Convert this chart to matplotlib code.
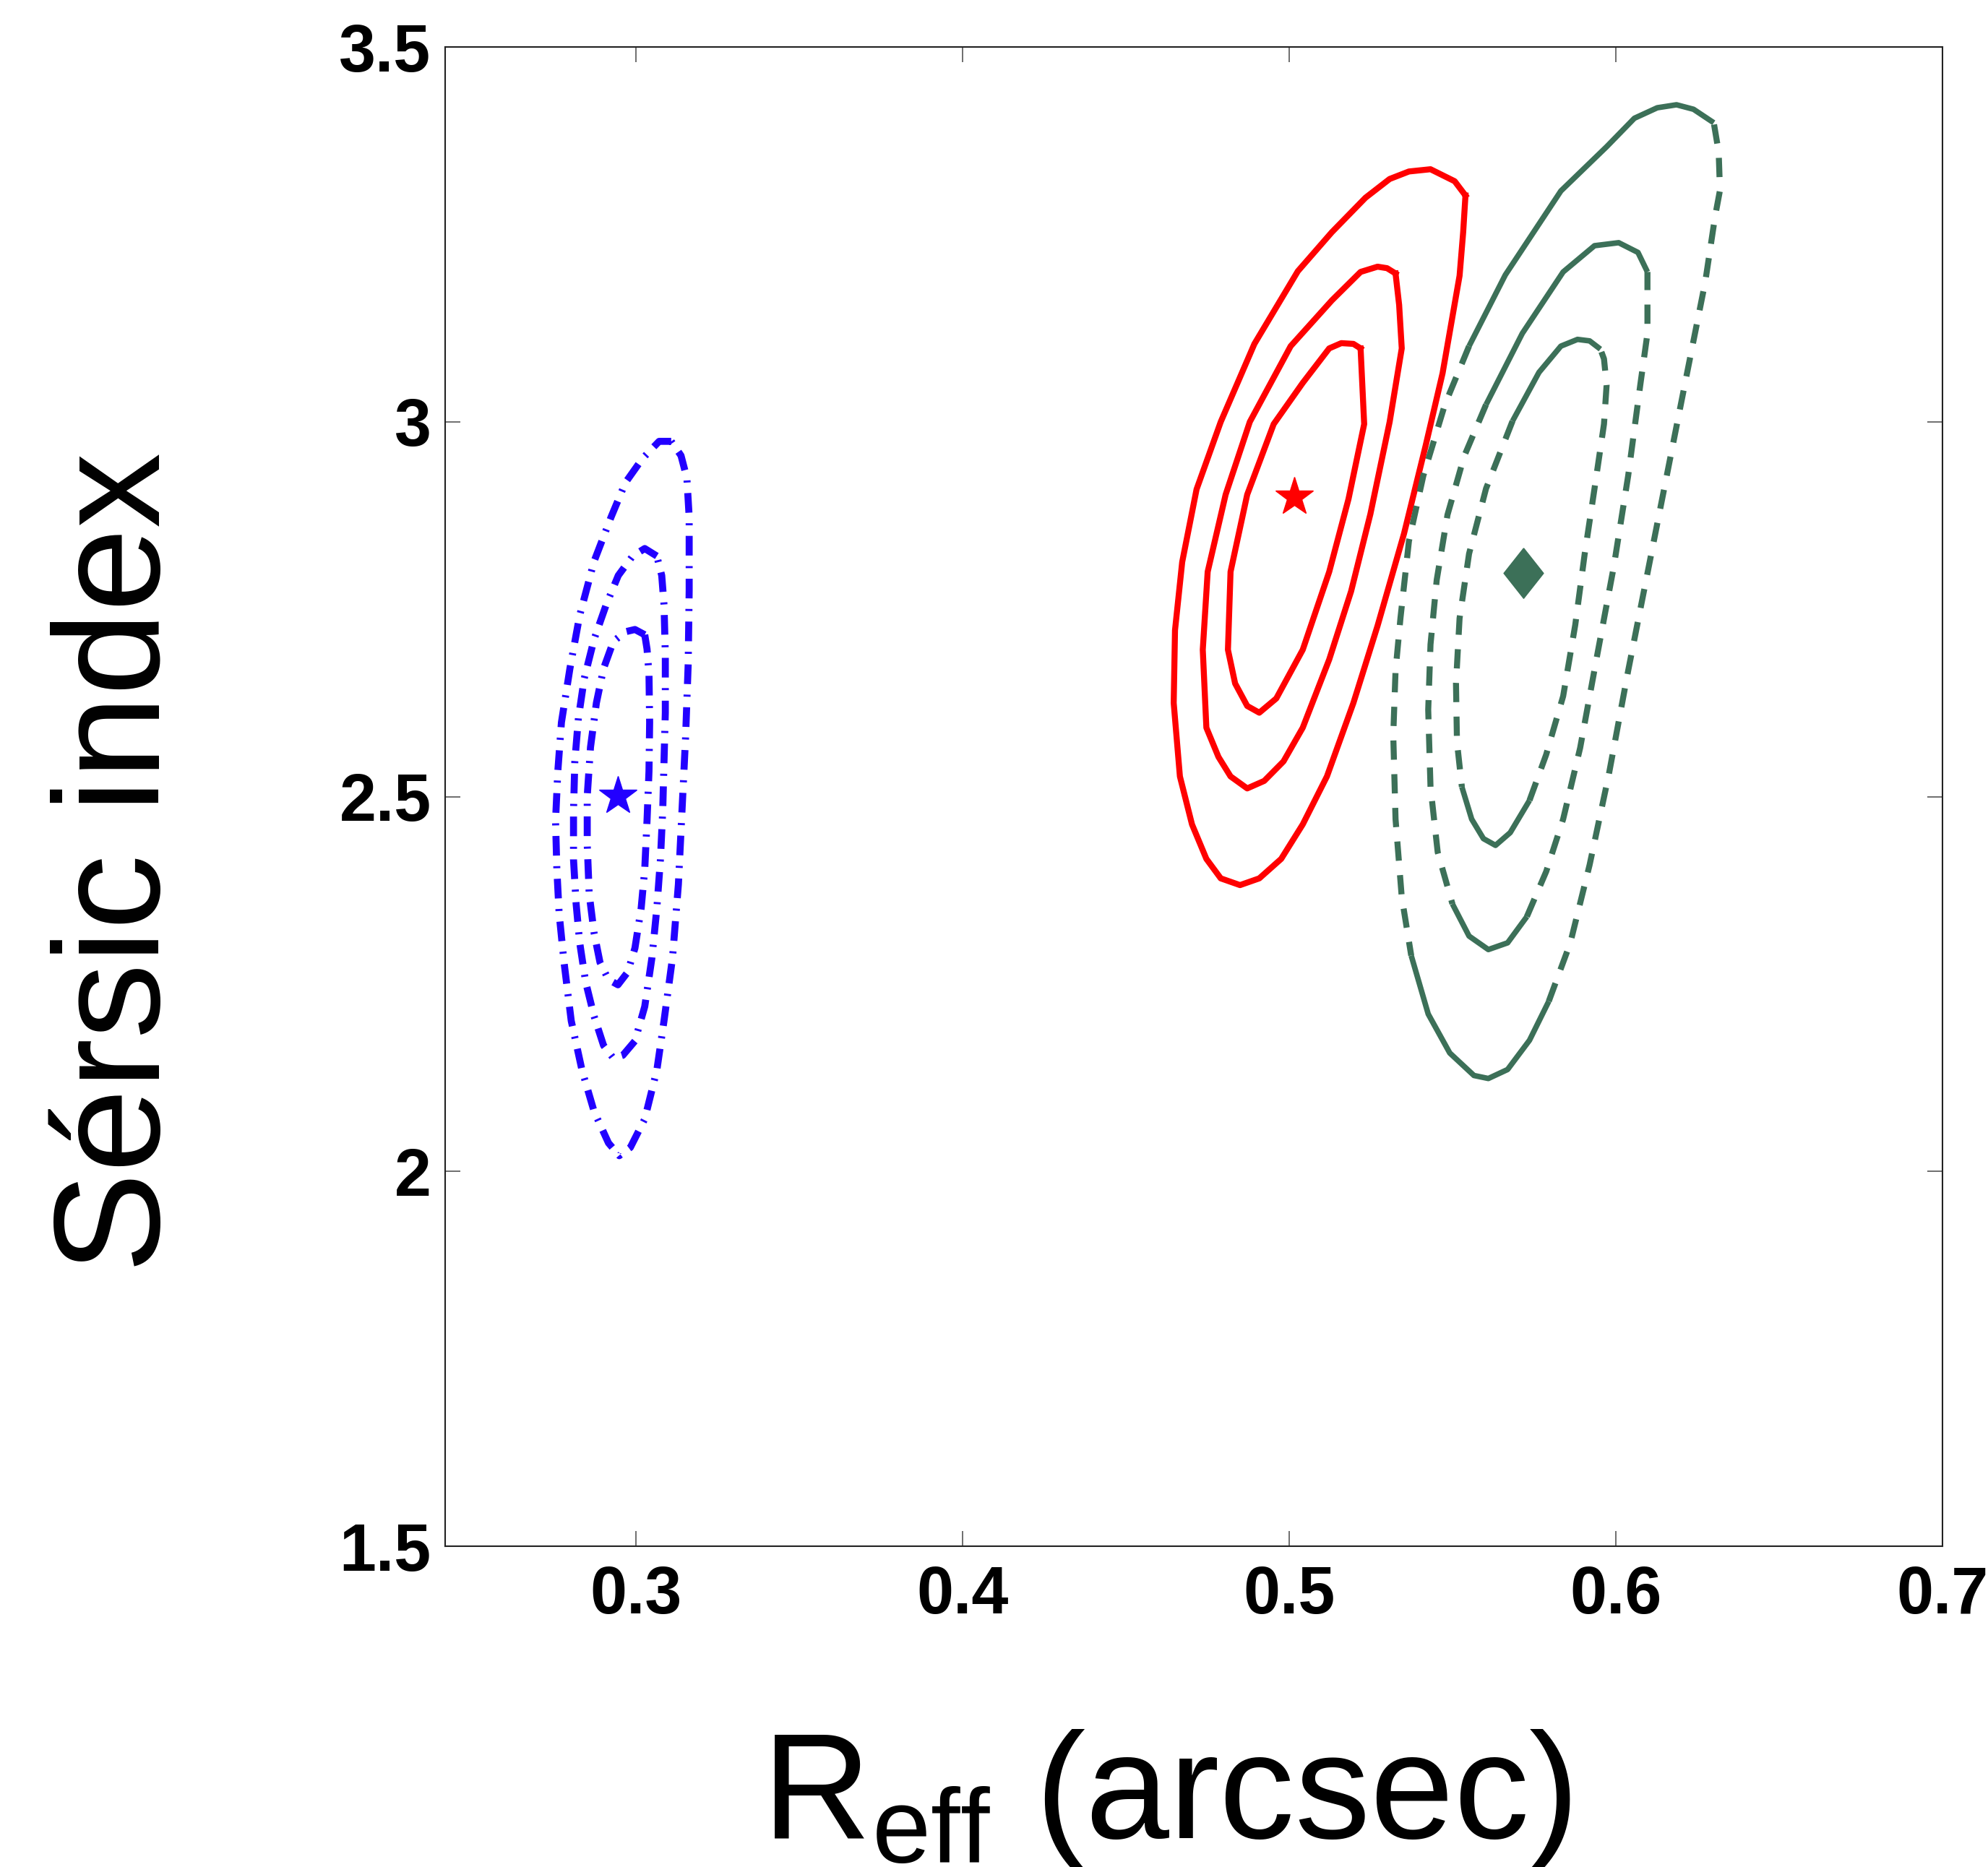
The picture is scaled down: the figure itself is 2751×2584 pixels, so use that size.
import numpy as np
import matplotlib.pyplot as plt

plt.rcParams['font.family'] = ['Liberation Sans', 'DejaVu Sans']
plt.rcParams['mathtext.fontset'] = 'custom'
plt.rcParams['mathtext.rm'] = 'Liberation Sans'

# ---- blue sample: three confidence contours (outer -> inner) + best fit
blue_c1_x = [0.3109, 0.3072, 0.3021, 0.2969, 0.2925, 0.2873, 0.2829, 0.2799, 0.2773, 0.2762,
             0.2755, 0.2759, 0.2766, 0.2781, 0.2803, 0.2836, 0.2873, 0.2917, 0.2950, 0.2984,
             0.3028, 0.3065, 0.3087, 0.3113, 0.3131, 0.3142, 0.3153, 0.3161, 0.3164, 0.3164,
             0.3157, 0.3139]
blue_c1_y = [2.974, 2.974, 2.951, 2.919, 2.873, 2.814, 2.742, 2.671, 2.599, 2.534,
             2.468, 2.403, 2.344, 2.279, 2.201, 2.135, 2.080, 2.038, 2.021, 2.032,
             2.070, 2.135, 2.201, 2.285, 2.383, 2.481, 2.579, 2.677, 2.775, 2.873,
             2.925, 2.955]
blue_c2_x = [0.3065, 0.3028, 0.2991, 0.2947, 0.2910, 0.2873, 0.2843, 0.2825, 0.2814, 0.2810,
             0.2810, 0.2818, 0.2829, 0.2847, 0.2873, 0.2902, 0.2932, 0.2961, 0.2998, 0.3028,
             0.3050, 0.3065, 0.3076, 0.3083, 0.3087, 0.3091, 0.3091, 0.3087, 0.3080]
blue_c2_y = [2.821, 2.831, 2.821, 2.795, 2.756, 2.710, 2.658, 2.605, 2.547, 2.481,
             2.416, 2.357, 2.305, 2.253, 2.207, 2.168, 2.151, 2.155, 2.174, 2.220,
             2.285, 2.351, 2.416, 2.481, 2.547, 2.612, 2.690, 2.756, 2.795]
blue_c3_x = [0.3028, 0.2998, 0.2969, 0.2932, 0.2902, 0.2880, 0.2862, 0.2852, 0.2852, 0.2858,
             0.2873, 0.2891, 0.2917, 0.2946, 0.2976, 0.2998, 0.3017, 0.3028, 0.3035, 0.3041,
             0.3043, 0.3041, 0.3035]
blue_c3_y = [2.716, 2.723, 2.720, 2.707, 2.671, 2.625, 2.566, 2.501, 2.436, 2.370,
             2.318, 2.279, 2.256, 2.249, 2.266, 2.298, 2.351, 2.403, 2.468, 2.534,
             2.599, 2.664, 2.697]
blue_best = (0.2945, 2.501)

# ---- red sample
red_c1_x = [0.5540, 0.5507, 0.5433, 0.5367, 0.5308, 0.5234, 0.5131, 0.5027, 0.4894, 0.4791,
            0.4717, 0.4673, 0.4651, 0.4647, 0.4666, 0.4703, 0.4747, 0.4791, 0.4850, 0.4909,
            0.4976, 0.5042, 0.5116, 0.5197, 0.5271, 0.5352, 0.5418, 0.5470, 0.5522, 0.5533]
red_c1_y = [3.302, 3.321, 3.337, 3.334, 3.324, 3.299, 3.253, 3.201, 3.104, 3.000,
            2.910, 2.813, 2.722, 2.625, 2.527, 2.463, 2.417, 2.391, 2.382, 2.391,
            2.417, 2.463, 2.527, 2.625, 2.728, 2.851, 2.968, 3.065, 3.195, 3.253]
red_c2_x = [0.5326, 0.5300, 0.5271, 0.5219, 0.5131, 0.5005, 0.4880, 0.4806, 0.4751, 0.4736,
            0.4747, 0.4784, 0.4821, 0.4872, 0.4924, 0.4983, 0.5042, 0.5123, 0.5190, 0.5249,
            0.5308, 0.5345, 0.5337]
red_c2_y = [3.198, 3.205, 3.207, 3.200, 3.162, 3.101, 3.000, 2.903, 2.800, 2.696,
            2.592, 2.553, 2.527, 2.511, 2.521, 2.547, 2.592, 2.683, 2.774, 2.877,
            3.000, 3.098, 3.156]
red_c3_x = [0.5219, 0.5197, 0.5160, 0.5123, 0.5042, 0.4953, 0.4872, 0.4821, 0.4813, 0.4835,
            0.4872, 0.4909, 0.4961, 0.5042, 0.5123, 0.5182, 0.5230]
red_c3_y = [3.098, 3.104, 3.105, 3.098, 3.052, 2.997, 2.903, 2.800, 2.696, 2.651,
            2.621, 2.612, 2.631, 2.696, 2.800, 2.897, 2.997]
red_best = (0.5015, 2.900)

# ---- green sample
green_c1_x = [0.6300, 0.6238, 0.6186, 0.6127, 0.6057, 0.5972, 0.5832, 0.5662, 0.5551, 0.5477,
              0.5411, 0.5367, 0.5341, 0.5326, 0.5319, 0.5326, 0.5345, 0.5374, 0.5426, 0.5492,
              0.5566, 0.5610, 0.5669, 0.5736, 0.5795, 0.5861, 0.5920, 0.5979, 0.6038, 0.6097,
              0.6156, 0.6215, 0.6274, 0.6304, 0.6319, 0.6315]
green_c1_y = [3.399, 3.417, 3.423, 3.419, 3.405, 3.367, 3.308, 3.196, 3.101, 3.023,
              2.928, 2.841, 2.738, 2.668, 2.582, 2.470, 2.366, 2.288, 2.210, 2.158,
              2.128, 2.124, 2.136, 2.175, 2.227, 2.305, 2.409, 2.530, 2.668, 2.798,
              2.928, 3.058, 3.187, 3.274, 3.309, 3.360]
green_c2_x = [0.6097, 0.6068, 0.6009, 0.5935, 0.5839, 0.5714, 0.5603, 0.5536, 0.5485, 0.5452,
              0.5433, 0.5426, 0.5433, 0.5455, 0.5500, 0.5551, 0.5610, 0.5669, 0.5728, 0.5787,
              0.5839, 0.5891, 0.5942, 0.5994, 0.6038, 0.6075, 0.6097, 0.6097]
green_c2_y = [3.200, 3.226, 3.239, 3.235, 3.200, 3.118, 3.023, 2.954, 2.876, 2.789,
              2.703, 2.616, 2.513, 2.426, 2.357, 2.314, 2.296, 2.305, 2.340, 2.400,
              2.470, 2.565, 2.686, 2.807, 2.928, 3.049, 3.118, 3.187]
green_c3_x = [0.5953, 0.5920, 0.5883, 0.5832, 0.5765, 0.5684, 0.5603, 0.5551, 0.5522, 0.5511,
              0.5514, 0.5529, 0.5559, 0.5595, 0.5632, 0.5677, 0.5736, 0.5787, 0.5839, 0.5876,
              0.5905, 0.5935, 0.5964, 0.5972, 0.5964]
green_c3_y = [3.097, 3.108, 3.110, 3.101, 3.066, 3.001, 2.911, 2.824, 2.738, 2.651,
              2.573, 2.513, 2.470, 2.444, 2.435, 2.452, 2.495, 2.556, 2.634, 2.729,
              2.824, 2.911, 2.997, 3.049, 3.084]
green_best = (0.5717, 2.798)

x_ticks = [0.3, 0.4, 0.5, 0.6, 0.7]
x_ticklabels = ['0.3', '0.4', '0.5', '0.6', '0.7']
y_ticks = [1.5, 2, 2.5, 3, 3.5]
y_ticklabels = ['1.5', '2', '2.5', '3', '3.5']

BLUE = '#2200ff'
RED = '#ff0000'
GREEN = '#3c7058'


def closed(xs, ys):
    return np.append(xs, xs[0]), np.append(ys, ys[0])


fig = plt.figure(figsize=(27.51, 25.84), dpi=100)
ax = fig.add_axes([0.2239, 0.1718, 0.7532, 0.8030])

# blue: dash-dot
for cx, cy in [(blue_c1_x, blue_c1_y), (blue_c2_x, blue_c2_y), (blue_c3_x, blue_c3_y)]:
    xs, ys = closed(cx, cy)
    ax.plot(xs, ys, color=BLUE, lw=7, linestyle=(0, (2.8, 1.5, 0.3, 1.5)),
            dash_capstyle='butt')

# red: solid
for cx, cy in [(red_c1_x, red_c1_y), (red_c2_x, red_c2_y), (red_c3_x, red_c3_y)]:
    xs, ys = closed(cx, cy)
    ax.plot(xs, ys, color=RED, lw=6, solid_joinstyle='round')

# green: dashed sides, solid top and bottom arcs
green_runs = [
    (green_c1_x, green_c1_y, [(0, 8), (17, 24)]),
    (green_c2_x, green_c2_y, [(0, 6), (14, 18)]),
    (green_c3_x, green_c3_y, [(0, 5), (11, 16)]),
]
for cx, cy, solid in green_runs:
    xs, ys = closed(cx, cy)
    n = len(xs) - 1
    edges = [0]
    for a, b in solid:
        edges += [a, b]
    edges.append(n)
    for k in range(len(edges) - 1):
        a, b = edges[k], edges[k + 1]
        if b <= a:
            continue
        if (a, b) in solid:
            ax.plot(xs[a:b + 1], ys[a:b + 1], color=GREEN, lw=5.5, solid_capstyle='butt')
        else:
            ax.plot(xs[a:b + 1], ys[a:b + 1], color=GREEN, lw=6,
                    linestyle=(0, (3.2, 2.4)), dash_capstyle='butt')

# best-fit markers
diamond = [(0, 1), (0.79, 0), (0, -1), (-0.79, 0), (0, 1)]
ax.plot(*blue_best, marker='*', color=BLUE, ms=40, mec=BLUE)
ax.plot(*red_best, marker='*', color=RED, ms=40, mec=RED)
ax.plot(*green_best, marker=diamond, color=GREEN, ms=50, mec=GREEN)

ax.set_xlim(0.2417, 0.7)
ax.set_ylim(1.5, 3.5)
ax.set_xticks(x_ticks)
ax.set_xticklabels(x_ticklabels)
ax.set_yticks(y_ticks)
ax.set_yticklabels(y_ticklabels)
ax.tick_params(direction='in', length=15, width=1.2, color='#555555',
               top=True, right=True, labelsize=66)
ax.tick_params(axis='x', pad=19)
ax.tick_params(axis='y', pad=14)
for lab in ax.get_xticklabels() + ax.get_yticklabels():
    lab.set_fontweight('bold')
for sp in ax.spines.values():
    sp.set_linewidth(1.5)
    sp.set_color('#222222')

fig.text(0.0606, 0.5383, 'Sérsic index', rotation=90, ha='center', va='center',
         fontsize=150)
fig.text(0.5867, 0.0155, r'R$_{\mathrm{eff}}$ (arcsec)', ha='center', va='baseline',
         fontsize=150)

fig.savefig('out.png', dpi=100)
